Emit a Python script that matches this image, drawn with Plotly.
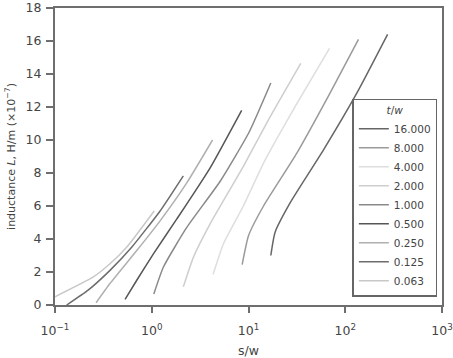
import plotly.graph_objects as go

# t/w legend labels (legend order)
labels = ["16.000", "8.000", "4.000", "2.000", "1.000", "0.500", "0.250", "0.125", "0.063"]
colors = ["#666666", "#9a9a9a", "#dedede", "#cecece", "#8a8a8a", "#565656", "#b0b0b0", "#6c6c6c", "#c8c8c8"]

# s/w values and inductance values per curve (x 10^-7 H/m)
x_16 = [17.0, 18.8, 27.0, 59.6, 132.0, 274.0]
y_16 = [3.0, 4.4, 6.2, 9.4, 12.85, 16.4]
x_8 = [8.6, 10.0, 14.3, 31.6, 69.8, 137.0]
y_8 = [2.45, 4.2, 6.0, 9.2, 12.85, 16.1]
x_4 = [4.3, 5.5, 8.85, 14.3, 31.6, 68.7]
y_4 = [1.85, 3.7, 6.0, 8.6, 12.2, 15.55]
x_2 = [2.12, 2.7, 4.0, 8.85, 16.7, 34.7]
y_2 = [1.1, 2.9, 4.9, 8.4, 11.4, 14.65]
x_1 = [1.05, 1.32, 2.3, 5.1, 10.2, 17.0]
y_1 = [0.66, 2.3, 4.7, 7.5, 10.5, 13.45]
x_05 = [0.53, 0.70, 1.04, 1.81, 4.0, 8.5]
y_05 = [0.34, 1.5, 3.1, 5.2, 8.3, 11.8]
x_025 = [0.266, 0.37, 0.70, 1.22, 2.3, 4.25]
y_025 = [0.14, 1.3, 3.3, 5.1, 7.4, 10.0]
x_0125 = [0.132, 0.22, 0.37, 0.62, 1.22, 2.12]
y_0125 = [0.0, 0.9, 2.1, 3.5, 5.7, 7.83]
x_0063 = [0.1, 0.249, 0.37, 0.55, 1.06]
y_0063 = [0.5, 1.7, 2.5, 3.5, 5.7]

xs = [x_16, x_8, x_4, x_2, x_1, x_05, x_025, x_0125, x_0063]
ys = [y_16, y_8, y_4, y_2, y_1, y_05, y_025, y_0125, y_0063]

x_tickvals = [0.1, 1, 10, 100, 1000]
x_ticktext = ["10<sup>−1</sup>", "10<sup>0</sup>", "10<sup>1</sup>", "10<sup>2</sup>", "10<sup>3</sup>"]
y_tickvals = [0, 2, 4, 6, 8, 10, 12, 14, 16, 18]

fig = go.Figure()
for lab, c, x, y in zip(labels, colors, xs, ys):
    fig.add_trace(go.Scatter(x=x, y=y, mode="lines", name=lab,
                             line=dict(color=c, width=1.5, shape="spline", smoothing=0.5)))

font = "DejaVu Sans, Verdana, sans-serif"
axis_col = "#6e6e6e"
fig.update_layout(
    width=453, height=358,
    margin=dict(l=55, r=11, t=8, b=53),
    paper_bgcolor="white", plot_bgcolor="white",
    font=dict(family=font, size=12.5, color="#444444"),
    showlegend=True,
    legend=dict(
        title=dict(text="<i>t</i>/<i>w</i>", side="top center", font=dict(size=10.5)),
        x=0.988, xanchor="right", y=0.027, yanchor="bottom",
        bordercolor="#666666", borderwidth=1.5, bgcolor="white",
        font=dict(size=10.5), itemwidth=30, tracegroupgap=0,
    ),
    xaxis=dict(
        type="log", range=[-1, 3], tickvals=x_tickvals, ticktext=x_ticktext,
        automargin=False, ticklabeloverflow="allow",
        showline=True, linecolor=axis_col, linewidth=2, mirror=True,
        ticks="outside", ticklen=6, tickcolor=axis_col, tickwidth=1.5,
        ticklabelstandoff=7,
        showgrid=False, zeroline=False,
        title=dict(text="s/w", standoff=21, font=dict(size=12.5)),
    ),
    yaxis=dict(
        range=[0, 18], tickvals=y_tickvals,
        automargin=False, ticklabeloverflow="allow",
        showline=True, linecolor=axis_col, linewidth=2, mirror=True,
        ticks="outside", ticklen=7, tickcolor=axis_col, tickwidth=1.5,
        ticklabelstandoff=2,
        showgrid=False, zeroline=False,
        title=dict(text="inductance <i>L</i>, H/m (×10<sup>−7</sup>)", standoff=8, font=dict(size=11)),
    ),
)

fig.write_html("out.html")
